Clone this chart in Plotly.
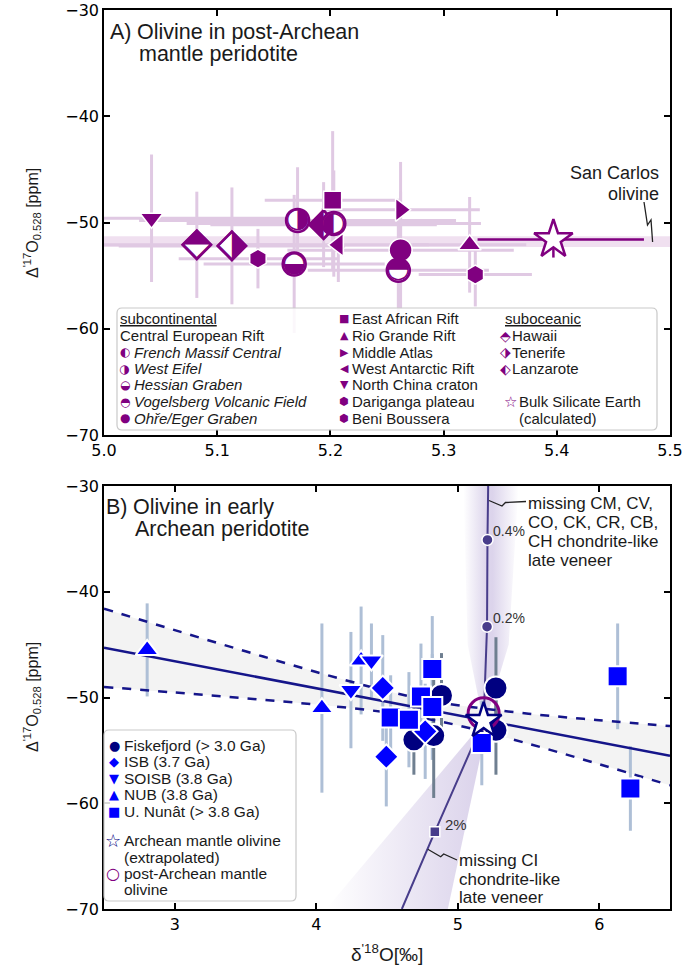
import plotly.graph_objects as go

W, H = 686, 970
SANS = "Liberation Sans, Arial, sans-serif"
TICKFONT = "DejaVu Sans, sans-serif"
PURPLE = "#800080"
PINK = "#e0c9e3"
NAVY = "#000080"
BLUE = "#0000ff"
SLATE = "#483d8b"
FITC = "#15158a"

# ---------------- Panel A: olivine in post-Archean mantle peridotite ----------------
a_sites = ["North China craton", "Hawaii", "Tenerife", "Beni Boussera", "Hessian Graben",
           "West Eifel", "Lanzarote", "East African Rift", "French Massif Central",
           "West Antarctic Rift", "Middle Atlas", "Ohře/Eger Graben",
           "Vogelsberg Volcanic Field", "Rio Grande Rift", "Dariganga plateau"]
a_d18 = [5.042, 5.082, 5.113, 5.136, 5.168, 5.171, 5.194, 5.202, 5.203, 5.207,
         5.262, 5.262, 5.260, 5.323, 5.328]
a_d18_err = [0.12, 0.09, 0.10, 0.07, 0.08, 0.14, 0.10, 0.06, 0.13, 0.08,
             0.07, 0.10, 0.08, 0.05, 0.05]
a_D17 = [-49.6, -52.1, -52.2, -53.4, -53.9, -49.8, -50.2, -47.9, -50.1, -52.1,
         -48.8, -52.6, -54.5, -52.1, -54.9]
a_D17_err = [6.0, 5.0, 5.5, 2.8, 6.5, 5.0, 4.0, 6.5, 5.0, 3.5,
             4.5, 5.5, 5.0, 4.5, 3.0]

bse_d18 = [5.397]
bse_D17 = [-51.6]
bse_D17_err = [1.7]
tie_d18 = [5.330, 5.477]
tie_D17 = [-51.6, -51.6]
olv_band_d18 = [5.0, 5.5]
olv_band_lo = [-52.3, -52.3]
olv_band_hi = [-51.3, -51.3]

# ---------------- Panel B: olivine in early Archean peridotite ----------------
fisk_d18 = [4.885, 4.83, 4.69, 5.27, 5.27]
fisk_D17 = [-49.8, -53.6, -54.0, -49.1, -53.1]
fisk_err = [4.0, 5.9, 3.3, 4.8, 4.2]
isb_d18 = [4.47, 4.495, 4.77]
isb_D17 = [-49.1, -55.6, -53.2]
isb_err = [5.0, 4.7, 4.5]
soisb_d18 = [4.245, 4.39]
soisb_D17 = [-49.3, -46.5]
soisb_err = [5.5, 3.5]
nub_d18 = [2.805, 4.04, 4.317]
nub_D17 = [-45.5, -51.0, -46.5]
nub_err = [4.4, 8.0, 5.1]
unun_d18 = [4.526, 4.655, 4.74, 4.82, 4.82, 5.17, 6.13, 6.22]
unun_D17 = [-51.9, -52.1, -49.9, -47.3, -50.9, -54.3, -48.0, -58.6]
unun_err = [4.0, 4.5, 5.0, 5.0, 5.0, 4.0, 5.0, 4.0]

fit_d18 = [2.5, 3.0, 3.5, 4.0, 4.5, 4.8, 5.0, 5.5, 6.0, 6.5]
fit_D17 = [-45.30, -46.58, -47.85, -49.13, -50.40, -51.17, -51.68, -52.95, -54.23, -55.50]
fit_hi = [-41.60, -43.63, -45.63, -47.59, -49.39, -50.27, -50.73, -51.53, -52.15, -52.70]
fit_lo = [-49.00, -49.53, -50.07, -50.67, -51.41, -52.07, -52.63, -54.37, -56.31, -58.30]

archean_d18 = [5.183]
archean_D17 = [-52.2]
post_archean_d18 = [5.183]
post_archean_D17 = [-51.5]

cm_mix_d18 = [5.183, 5.207, 5.210, 5.215]
cm_mix_D17 = [-52.2, -43.3, -35.1, -30.0]
cm_pct_d18 = [5.207, 5.210]
cm_pct_D17 = [-43.3, -35.1]
cm_pct_lbl = ["0.2%", "0.4%"]
ci_mix_d18 = [5.183, 4.838, 4.605]
ci_mix_D17 = [-52.2, -62.7, -70.0]
ci_pct_d18 = [4.838]
ci_pct_D17 = [-62.7]
ci_pct_lbl = ["2%"]
cm_band_d18 = [5.183, 5.07, 5.04, 5.43, 5.36, 5.19]
cm_band_D17 = [-52.5, -45.0, -30.0, -30.0, -45.0, -52.5]
ci_band_d18 = [5.17, 4.07, 4.93, 5.21]
ci_band_D17 = [-52.5, -70.0, -70.0, -52.5]

# marker styling per site (symbol, size, half-filled glyph)
A_STYLE = {
    "North China craton": ("triangle-down", 20, None),
    "Hawaii": ("diamond", 22, "⬘"),
    "Tenerife": ("diamond", 22, "⬗"),
    "Lanzarote": ("diamond", 22, "⬖"),
    "Beni Boussera": ("hexagon", 19, None),
    "Dariganga plateau": ("hexagon", 19, None),
    "Hessian Graben": ("circle", 23, "◒"),
    "Vogelsberg Volcanic Field": ("circle", 23, "◓"),
    "West Eifel": ("circle", 23, "◑"),
    "French Massif Central": ("circle", 23, "◐"),
    "Ohře/Eger Graben": ("circle", 23, None),
    "East African Rift": ("square", 18, None),
    "West Antarctic Rift": ("triangle-left", 20, None),
    "Middle Atlas": ("triangle-right", 20, None),
    "Rio Grande Rift": ("triangle-up", 20, None),
}
GLYPH_SIZE = {"circle": 28, "diamond": 40}

fig = go.Figure()

# ---- panel A ----
fig.add_trace(go.Scatter(x=olv_band_d18, y=olv_band_lo, mode="lines", line=dict(width=0),
                         xaxis="x", yaxis="y", hoverinfo="skip"))
fig.add_trace(go.Scatter(x=olv_band_d18, y=olv_band_hi, mode="lines", line=dict(width=0),
                         fill="tonexty", fillcolor="rgba(128,0,128,0.12)",
                         xaxis="x", yaxis="y", hoverinfo="skip"))
fig.add_trace(go.Scatter(
    x=a_d18, y=a_D17, mode="markers", marker=dict(color="rgba(0,0,0,0)", size=1),
    error_x=dict(type="data", array=a_d18_err, color=PINK, thickness=3, width=0),
    error_y=dict(type="data", array=a_D17_err, color=PINK, thickness=3, width=0),
    xaxis="x", yaxis="y"))
fig.add_trace(go.Scatter(
    x=bse_d18, y=bse_D17, mode="markers", marker=dict(color="rgba(0,0,0,0)", size=1),
    error_y=dict(type="data", array=bse_D17_err, color=PURPLE, thickness=2.5, width=0),
    xaxis="x", yaxis="y"))
fig.add_trace(go.Scatter(x=tie_d18, y=tie_D17, mode="lines",
                         line=dict(color=PURPLE, width=2.5), xaxis="x", yaxis="y"))

for i, site in enumerate(a_sites):
    sym, size, half = A_STYLE[site]
    if half is None:
        mk = dict(symbol=sym, size=size, color=PURPLE, line=dict(color="white", width=1.5))
    else:
        mk = dict(symbol=sym, size=size, color="white", line=dict(color=PURPLE, width=2.5))
    fig.add_trace(go.Scatter(x=[a_d18[i]], y=[a_D17[i]], mode="markers", marker=mk,
                             xaxis="x", yaxis="y"))
    if half is not None:
        fig.add_trace(go.Scatter(x=[a_d18[i]], y=[a_D17[i]], mode="text", text=[half],
                                 textposition="middle center",
                                 textfont=dict(family="DejaVu Sans", size=GLYPH_SIZE[sym],
                                               color=PURPLE),
                                 xaxis="x", yaxis="y"))

fig.add_trace(go.Scatter(x=bse_d18, y=bse_D17, mode="markers",
                         marker=dict(symbol="star", size=29, color="white",
                                     line=dict(color=PURPLE, width=2.5)),
                         xaxis="x", yaxis="y"))

# ---- panel B ----
fig.add_trace(go.Scatter(x=fit_d18, y=fit_hi, mode="lines", line=dict(width=0, shape="spline"),
                         xaxis="x2", yaxis="y2", hoverinfo="skip"))
fig.add_trace(go.Scatter(x=fit_d18, y=fit_lo, mode="lines", line=dict(width=0, shape="spline"),
                         fill="tonexty", fillcolor="#f3f3f3",
                         xaxis="x2", yaxis="y2", hoverinfo="skip"))

glow = [[0, "rgba(120,90,180,0)"], [0.43, "rgba(120,90,180,0.26)"],
        [0.53, "rgba(120,90,180,0.26)"], [1, "rgba(120,90,180,0)"]]
fig.add_trace(go.Scatter(x=cm_band_d18, y=cm_band_D17, mode="lines", line=dict(width=0),
                         fill="toself", fillgradient=dict(type="horizontal", colorscale=glow),
                         xaxis="x2", yaxis="y2", hoverinfo="skip"))
fig.add_trace(go.Scatter(x=ci_band_d18, y=ci_band_D17, mode="lines", line=dict(width=0),
                         fill="toself",
                         fillgradient=dict(type="horizontal",
                                           colorscale=[[0, "rgba(120,90,180,0)"],
                                                       [1, "rgba(120,90,180,0.28)"]]),
                         xaxis="x2", yaxis="y2", hoverinfo="skip"))

LIGHT_ERR = "#aebfd6"
DARK_ERR = "#6f7f90"
for xs, ys, es, col in [(nub_d18, nub_D17, nub_err, LIGHT_ERR),
                        (soisb_d18, soisb_D17, soisb_err, LIGHT_ERR),
                        (isb_d18, isb_D17, isb_err, LIGHT_ERR),
                        (unun_d18, unun_D17, unun_err, LIGHT_ERR),
                        (fisk_d18, fisk_D17, fisk_err, DARK_ERR)]:
    fig.add_trace(go.Scatter(x=xs, y=ys, mode="markers",
                             marker=dict(color="rgba(0,0,0,0)", size=1),
                             error_y=dict(type="data", array=es, color=col, thickness=3, width=0),
                             xaxis="x2", yaxis="y2"))

fig.add_trace(go.Scatter(x=fit_d18, y=fit_hi, mode="lines",
                         line=dict(color=FITC, width=2.5, dash="dash", shape="spline"),
                         xaxis="x2", yaxis="y2"))
fig.add_trace(go.Scatter(x=fit_d18, y=fit_lo, mode="lines",
                         line=dict(color=FITC, width=2.5, dash="dash", shape="spline"),
                         xaxis="x2", yaxis="y2"))
fig.add_trace(go.Scatter(x=fit_d18, y=fit_D17, mode="lines",
                         line=dict(color=FITC, width=2.5), xaxis="x2", yaxis="y2"))

fig.add_trace(go.Scatter(x=cm_mix_d18, y=cm_mix_D17, mode="lines",
                         line=dict(color=SLATE, width=2), xaxis="x2", yaxis="y2"))
fig.add_trace(go.Scatter(x=ci_mix_d18, y=ci_mix_D17, mode="lines",
                         line=dict(color=SLATE, width=2), xaxis="x2", yaxis="y2"))
fig.add_trace(go.Scatter(x=cm_pct_d18, y=cm_pct_D17, mode="markers",
                         marker=dict(symbol="circle", size=11, color=SLATE,
                                     line=dict(color="white", width=1.5)),
                         xaxis="x2", yaxis="y2"))
fig.add_trace(go.Scatter(x=ci_pct_d18, y=ci_pct_D17, mode="markers",
                         marker=dict(symbol="square", size=10, color=SLATE,
                                     line=dict(color="white", width=1.5)),
                         xaxis="x2", yaxis="y2"))


def pts(xs, ys, sym, size, col):
    fig.add_trace(go.Scatter(x=xs, y=ys, mode="markers",
                             marker=dict(symbol=sym, size=size, color=col,
                                         line=dict(color="white", width=2)),
                             xaxis="x2", yaxis="y2"))


pts(nub_d18, nub_D17, "triangle-up", 20, BLUE)
pts(soisb_d18, soisb_D17, "triangle-down", 20, BLUE)
pts(fisk_d18, fisk_D17, "circle", 23, NAVY)
pts(isb_d18, isb_D17, "diamond", 19, BLUE)
pts(unun_d18, unun_D17, "square", 20, BLUE)

fig.add_trace(go.Scatter(x=post_archean_d18, y=post_archean_D17, mode="markers",
                         marker=dict(symbol="circle-open", size=31, color=PURPLE,
                                     line=dict(color=PURPLE, width=3)),
                         xaxis="x2", yaxis="y2"))
fig.add_trace(go.Scatter(x=archean_d18, y=archean_D17, mode="markers",
                         marker=dict(symbol="star", size=27, color="white",
                                     line=dict(color=NAVY, width=2.5)),
                         xaxis="x2", yaxis="y2"))


# ---------------- layout helpers ----------------
def px(x):
    return x / W


def py(y):
    return 1 - y / H


def note(text, x, y, size=15, xanchor="left", color="#1a1a1a", family=SANS, **kw):
    return dict(text=text, x=px(x), y=py(y), xref="paper", yref="paper", showarrow=False,
                xanchor=xanchor, yanchor="middle",
                font=dict(size=size, color=color, family=family), borderpad=0, **kw)


def polyline(points, color="#222", width=1.3):
    d = "M " + " L ".join(f"{px(x):.5f},{py(y):.5f}" for x, y in points)
    return dict(type="path", path=d, xref="paper", yref="paper",
                line=dict(color=color, width=width), layer="above")


def rounded_box(x0, y0, x1, y1, r=5):
    def p(x, y):
        return f"{px(x):.5f},{py(y):.5f}"
    d = (f"M {p(x0 + r, y0)} L {p(x1 - r, y0)} Q {p(x1, y0)} {p(x1, y0 + r)} "
         f"L {p(x1, y1 - r)} Q {p(x1, y1)} {p(x1 - r, y1)} L {p(x0 + r, y1)} "
         f"Q {p(x0, y1)} {p(x0, y1 - r)} L {p(x0, y0 + r)} Q {p(x0, y0)} {p(x0 + r, y0)} Z")
    return dict(type="path", path=d, xref="paper", yref="paper",
                line=dict(color="#c9c9c9", width=1.2), fillcolor="rgba(255,255,255,0.85)",
                layer="above")


ann = []
shapes = []
TITLE = 21.5

# panel titles
ann.append(note("A)", 109, 32, size=TITLE))
ann.append(note("Olivine in post-Archean", 136, 32, size=TITLE))
ann.append(note("mantle peridotite", 138, 54, size=TITLE))
ann.append(note("B)", 105, 507, size=TITLE))
ann.append(note("Olivine in early", 132, 507, size=TITLE))
ann.append(note("Archean peridotite", 134, 529, size=TITLE))

# San Carlos olivine
ann.append(note("San Carlos", 660, 173, size=18, xanchor="right"))
ann.append(note("olivine", 660, 194, size=18, xanchor="right"))
shapes.append(polyline([(644, 202), (647.5, 225), (651, 220), (652.6, 242)]))

# panel A legend
shapes.append(rounded_box(117, 308, 657, 430))
rows = [319, 335.5, 352, 368.5, 385, 401.5, 418]
LEG = 15
ann.append(note("<u>subcontinental</u>", 119, rows[0], size=LEG))
ann.append(note("Central European Rift", 119, rows[1], size=LEG))
col1 = [("◐", "French Massif Central"), ("◑", "West Eifel"), ("◒", "Hessian Graben"),
        ("◓", "Vogelsberg Volcanic Field"), ("●", "Ohře/Eger Graben")]
for k, (g, t) in enumerate(col1):
    ann.append(note(g, 125, rows[k + 2], size=12, xanchor="center", color=PURPLE,
                    family="DejaVu Sans"))
    ann.append(note(f"<i>{t}</i>", 133, rows[k + 2], size=LEG))
col2 = [("■", "East African Rift"), ("▲", "Rio Grande Rift"), ("▶", "Middle Atlas"),
        ("◀", "West Antarctic Rift"), ("▼", "North China craton"),
        ("⬢", "Dariganga plateau"), ("⬢", "Beni Boussera")]
for k, (g, t) in enumerate(col2):
    ann.append(note(g, 344, rows[k], size=11, xanchor="center", color=PURPLE,
                    family="DejaVu Sans"))
    ann.append(note(t, 351, rows[k], size=LEG))
ann.append(note("<u>suboceanic</u>", 504, rows[0], size=LEG))
col3 = [("⬘", "Hawaii"), ("⬗", "Tenerife"), ("⬖", "Lanzarote")]
for k, (g, t) in enumerate(col3):
    ann.append(note(g, 505, rows[k + 1], size=14, xanchor="center", color=PURPLE,
                    family="DejaVu Sans"))
    ann.append(note(t, 511, rows[k + 1], size=LEG))
ann.append(note("☆", 510, rows[5], size=15, xanchor="center", color=PURPLE,
                family="DejaVu Sans"))
ann.append(note("Bulk Silicate Earth", 518, rows[5], size=LEG))
ann.append(note("(calculated)", 518, rows[6], size=LEG))

# panel B labels
for t, yy in zip(["missing CM, CV,", "CO, CK, CR, CB,", "CH chondrite-like", "late veneer"],
                 [503, 522, 541, 560]):
    ann.append(note(t, 527, yy, size=17))
shapes.append(polyline([(489, 500.5), (502, 506), (505.5, 502.5), (526, 501.5)]))
for t, yy in zip(["missing CI", "chondrite-like", "late veneer"], [860, 879, 897]):
    ann.append(note(t, 458, yy, size=17))
shapes.append(polyline([(427.8, 849.3), (440.7, 856.7), (443.7, 854), (457, 860)]))

for xv, yv, lbl in zip(cm_pct_d18, cm_pct_D17, cm_pct_lbl):
    ann.append(dict(text=lbl, x=xv, y=yv, xref="x2", yref="y2", showarrow=False,
                    xanchor="left", yanchor="middle", xshift=4, yshift=9,
                    font=dict(size=14, color="#333", family=SANS)))
for xv, yv, lbl in zip(ci_pct_d18, ci_pct_D17, ci_pct_lbl):
    ann.append(dict(text=lbl, x=xv, y=yv, xref="x2", yref="y2", showarrow=False,
                    xanchor="left", yanchor="middle", xshift=8, yshift=7,
                    font=dict(size=15, color="#333", family=SANS)))

# panel B legend
shapes.append(rounded_box(104, 730, 296, 901))
LEGB = 15.5
legB = [("●", NAVY, "Fiskefjord (> 3.0 Ga)", 745), ("◆", BLUE, "ISB (3.7 Ga)", 761.5),
        ("▼", BLUE, "SOISB (3.8 Ga)", 778), ("▲", BLUE, "NUB (3.8 Ga)", 794.5),
        ("■", BLUE, "U. Nunât (> 3.8 Ga)", 811)]
for g, c, t, yy in legB:
    ann.append(note(g, 114, yy, size=13, xanchor="center", color=c, family="DejaVu Sans"))
    ann.append(note(t, 123, yy, size=LEGB))
ann.append(note("☆", 113, 840, size=18, xanchor="center", color=NAVY, family="DejaVu Sans"))
ann.append(note("Archean mantle olivine", 123, 840, size=LEGB))
ann.append(note("(extrapolated)", 123, 857, size=LEGB))
ann.append(note("○", 113, 873, size=16, xanchor="center", color=PURPLE, family="DejaVu Sans"))
ann.append(note("post-Archean mantle", 123, 873, size=LEGB))
ann.append(note("olivine", 123, 889, size=LEGB))

# axis titles
ytitle = "Δ<sup>'17</sup>O<sub>0.528</sub> [ppm]"
ann.append(note(ytitle, 32, 223, size=16, xanchor="center", textangle=-90))
ann.append(note(ytitle, 32, 697, size=16, xanchor="center", textangle=-90))
ann.append(note("δ<sup>'18</sup>O[‰]", 387, 953, size=19, xanchor="center"))

axis_common = dict(showline=True, linecolor="black", linewidth=1.5, mirror="ticks",
                   ticks="inside", ticklen=6, tickwidth=1.5, tickcolor="black",
                   showgrid=False, zeroline=False, automargin=False,
                   tickfont=dict(family=TICKFONT, size=16, color="black"))

a_xticks = [5.0, 5.1, 5.2, 5.3, 5.4, 5.5]
b_xticks = [3, 4, 5, 6]
y_ticks = [-70, -60, -50, -40, -30]

fig.update_layout(
    width=W, height=H, margin=dict(l=0, r=0, t=0, b=0),
    paper_bgcolor="white", plot_bgcolor="white", showlegend=False,
    xaxis=dict(domain=[px(104), px(670)], range=[5.0, 5.5], anchor="y",
               tickvals=a_xticks, ticktext=[f"{v:.1f}" for v in a_xticks], **axis_common),
    yaxis=dict(domain=[py(435), py(10)], range=[-70, -30], anchor="x",
               tickvals=y_ticks, **axis_common),
    xaxis2=dict(domain=[px(104), px(670)], range=[2.5, 6.5], anchor="y2",
                tickvals=b_xticks, **axis_common),
    yaxis2=dict(domain=[py(909), py(486)], range=[-70, -30], anchor="x2",
                tickvals=y_ticks, **axis_common),
    annotations=ann, shapes=shapes,
)

fig.write_html("out.html")
